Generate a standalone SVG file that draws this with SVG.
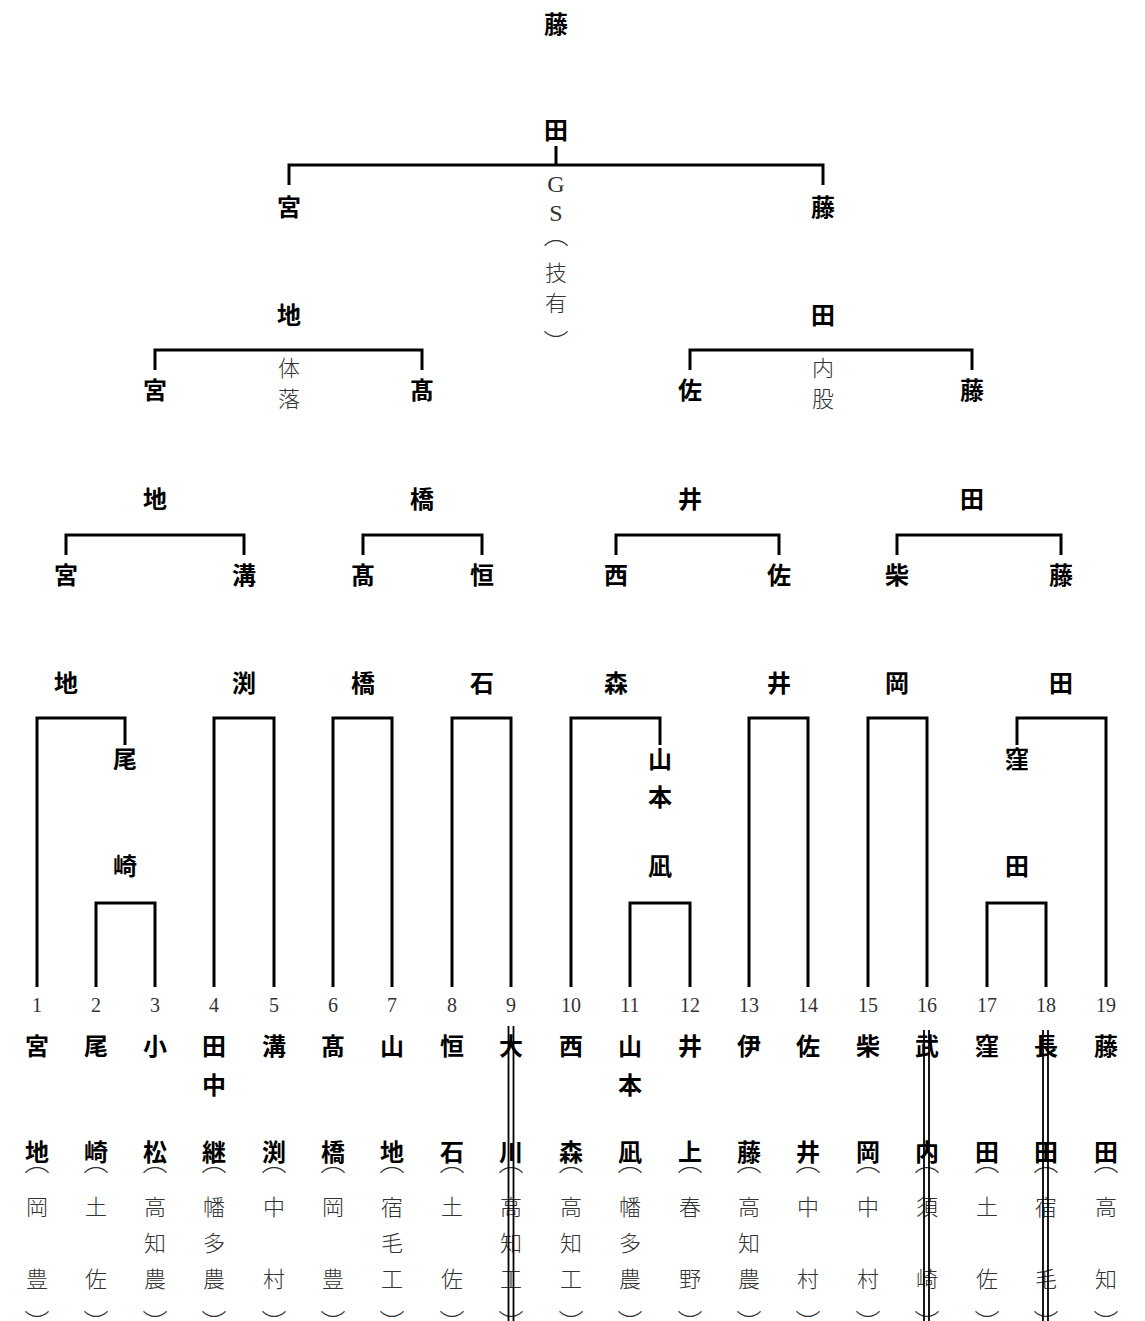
<svg xmlns="http://www.w3.org/2000/svg" width="1145" height="1321" viewBox="0 0 1145 1321">
<style>
text{font-family:"Noto Sans CJK JP","Noto Sans CJK SC",sans-serif;text-anchor:middle;dominant-baseline:central}
.nm{font-size:24px;font-weight:bold;fill:#000}
.sc{font-size:22px;font-weight:300;fill:#333}
.op{font-size:25px;font-weight:300;fill:#333}
.num{font-family:"Liberation Serif",serif;font-size:20px;fill:#333}
.gs{font-family:"Liberation Serif",serif;font-size:24px;fill:#333}
.ln{fill:none;stroke:#000;stroke-width:3}
.dl{fill:none;stroke:#000;stroke-width:1.8}
</style>
<rect width="1145" height="1321" fill="#fff"/>
<g id="connectors">
<path class="ln" d="M556,146V165M289,185V165H823V185"/>
<path class="ln" d="M155,370V350H422V370M690,370V350H972V370"/>
<path class="ln" d="M66,555V535H244V555M363,555V535H482V555M616,555V535H779V555M897,555V535H1061V555"/>
<path class="ln" d="M37,987V718H125V745M214,987V718H274V987M333,987V718H392V987M452,987V718H511V987M571,987V718H660V745M749,987V718H808V987M868,987V718H927V987M1017,745V718H1106V987"/>
<path class="ln" d="M96,987V903H155V987M630,987V903H690V987M987,987V903H1046V987"/>
</g>
<g id="champion"><text class="nm" x="556" y="22">藤</text><text class="nm" x="556" y="128">田</text></g>
<g id="final-note"><text class="gs" x="556" y="184">G</text><text class="gs" x="556" y="213">S</text><text class="op" x="556" y="233">︵</text><text class="sc" x="556" y="271">技</text><text class="sc" x="556" y="301">有</text><text class="op" x="556" y="341">︶</text></g>
<g id="sf-l"><text class="nm" x="289" y="205">宮</text><text class="nm" x="289" y="313">地</text></g>
<g id="sf-r"><text class="nm" x="823" y="205">藤</text><text class="nm" x="823" y="313">田</text></g>
<g id="note-l"><text class="sc" x="289" y="366">体</text><text class="sc" x="289" y="397">落</text></g>
<g id="note-r"><text class="sc" x="823" y="366">内</text><text class="sc" x="823" y="397">股</text></g>
<g id="qf1"><text class="nm" x="155" y="388">宮</text><text class="nm" x="155" y="497">地</text></g>
<g id="qf2"><text class="nm" x="422" y="388">髙</text><text class="nm" x="422" y="497">橋</text></g>
<g id="qf3"><text class="nm" x="690" y="388">佐</text><text class="nm" x="690" y="497">井</text></g>
<g id="qf4"><text class="nm" x="972" y="388">藤</text><text class="nm" x="972" y="497">田</text></g>
<g id="r3-1"><text class="nm" x="66" y="573">宮</text><text class="nm" x="66" y="681">地</text></g>
<g id="r3-2"><text class="nm" x="244" y="573">溝</text><text class="nm" x="244" y="681">渕</text></g>
<g id="r3-3"><text class="nm" x="363" y="573">髙</text><text class="nm" x="363" y="681">橋</text></g>
<g id="r3-4"><text class="nm" x="482" y="573">恒</text><text class="nm" x="482" y="681">石</text></g>
<g id="r3-5"><text class="nm" x="616" y="573">西</text><text class="nm" x="616" y="681">森</text></g>
<g id="r3-6"><text class="nm" x="779" y="573">佐</text><text class="nm" x="779" y="681">井</text></g>
<g id="r3-7"><text class="nm" x="897" y="573">柴</text><text class="nm" x="897" y="681">岡</text></g>
<g id="r3-8"><text class="nm" x="1061" y="573">藤</text><text class="nm" x="1061" y="681">田</text></g>
<g id="r2-1"><text class="nm" x="125" y="757">尾</text><text class="nm" x="125" y="864">崎</text></g>
<g id="r2-2"><text class="nm" x="660" y="757">山</text><text class="nm" x="660" y="795">本</text><text class="nm" x="660" y="864">凪</text></g>
<g id="r2-3"><text class="nm" x="1017" y="757">窪</text><text class="nm" x="1017" y="864">田</text></g>
<g id="p1"><text class="num" x="37" y="1005">1</text><text class="nm" x="37" y="1044">宮</text><text class="nm" x="37" y="1150">地</text><text class="op" x="37" y="1160">︵</text><text class="sc" x="37" y="1205">岡</text><text class="sc" x="37" y="1277">豊</text><text class="op" x="37" y="1321">︶</text></g>
<g id="p2"><text class="num" x="96" y="1005">2</text><text class="nm" x="96" y="1044">尾</text><text class="nm" x="96" y="1150">崎</text><text class="op" x="96" y="1160">︵</text><text class="sc" x="96" y="1205">土</text><text class="sc" x="96" y="1277">佐</text><text class="op" x="96" y="1321">︶</text></g>
<g id="p3"><text class="num" x="155" y="1005">3</text><text class="nm" x="155" y="1044">小</text><text class="nm" x="155" y="1150">松</text><text class="op" x="155" y="1160">︵</text><text class="sc" x="155" y="1205">高</text><text class="sc" x="155" y="1241">知</text><text class="sc" x="155" y="1277">農</text><text class="op" x="155" y="1321">︶</text></g>
<g id="p4"><text class="num" x="214" y="1005">4</text><text class="nm" x="214" y="1044">田</text><text class="nm" x="214" y="1083">中</text><text class="nm" x="214" y="1150">継</text><text class="op" x="214" y="1160">︵</text><text class="sc" x="214" y="1205">幡</text><text class="sc" x="214" y="1241">多</text><text class="sc" x="214" y="1277">農</text><text class="op" x="214" y="1321">︶</text></g>
<g id="p5"><text class="num" x="274" y="1005">5</text><text class="nm" x="274" y="1044">溝</text><text class="nm" x="274" y="1150">渕</text><text class="op" x="274" y="1160">︵</text><text class="sc" x="274" y="1205">中</text><text class="sc" x="274" y="1277">村</text><text class="op" x="274" y="1321">︶</text></g>
<g id="p6"><text class="num" x="333" y="1005">6</text><text class="nm" x="333" y="1044">髙</text><text class="nm" x="333" y="1150">橋</text><text class="op" x="333" y="1160">︵</text><text class="sc" x="333" y="1205">岡</text><text class="sc" x="333" y="1277">豊</text><text class="op" x="333" y="1321">︶</text></g>
<g id="p7"><text class="num" x="392" y="1005">7</text><text class="nm" x="392" y="1044">山</text><text class="nm" x="392" y="1150">地</text><text class="op" x="392" y="1160">︵</text><text class="sc" x="392" y="1205">宿</text><text class="sc" x="392" y="1241">毛</text><text class="sc" x="392" y="1277">工</text><text class="op" x="392" y="1321">︶</text></g>
<g id="p8"><text class="num" x="452" y="1005">8</text><text class="nm" x="452" y="1044">恒</text><text class="nm" x="452" y="1150">石</text><text class="op" x="452" y="1160">︵</text><text class="sc" x="452" y="1205">土</text><text class="sc" x="452" y="1277">佐</text><text class="op" x="452" y="1321">︶</text></g>
<g id="p9"><text class="num" x="511" y="1005">9</text><text class="nm" x="511" y="1044">大</text><text class="nm" x="511" y="1150">川</text><text class="op" x="511" y="1160">︵</text><text class="sc" x="511" y="1205">高</text><text class="sc" x="511" y="1241">知</text><text class="sc" x="511" y="1277">工</text><text class="op" x="511" y="1321">︶</text></g>
<g id="p10"><text class="num" x="571" y="1005">10</text><text class="nm" x="571" y="1044">西</text><text class="nm" x="571" y="1150">森</text><text class="op" x="571" y="1160">︵</text><text class="sc" x="571" y="1205">高</text><text class="sc" x="571" y="1241">知</text><text class="sc" x="571" y="1277">工</text><text class="op" x="571" y="1321">︶</text></g>
<g id="p11"><text class="num" x="630" y="1005">11</text><text class="nm" x="630" y="1044">山</text><text class="nm" x="630" y="1083">本</text><text class="nm" x="630" y="1150">凪</text><text class="op" x="630" y="1160">︵</text><text class="sc" x="630" y="1205">幡</text><text class="sc" x="630" y="1241">多</text><text class="sc" x="630" y="1277">農</text><text class="op" x="630" y="1321">︶</text></g>
<g id="p12"><text class="num" x="690" y="1005">12</text><text class="nm" x="690" y="1044">井</text><text class="nm" x="690" y="1150">上</text><text class="op" x="690" y="1160">︵</text><text class="sc" x="690" y="1205">春</text><text class="sc" x="690" y="1277">野</text><text class="op" x="690" y="1321">︶</text></g>
<g id="p13"><text class="num" x="749" y="1005">13</text><text class="nm" x="749" y="1044">伊</text><text class="nm" x="749" y="1150">藤</text><text class="op" x="749" y="1160">︵</text><text class="sc" x="749" y="1205">高</text><text class="sc" x="749" y="1241">知</text><text class="sc" x="749" y="1277">農</text><text class="op" x="749" y="1321">︶</text></g>
<g id="p14"><text class="num" x="808" y="1005">14</text><text class="nm" x="808" y="1044">佐</text><text class="nm" x="808" y="1150">井</text><text class="op" x="808" y="1160">︵</text><text class="sc" x="808" y="1205">中</text><text class="sc" x="808" y="1277">村</text><text class="op" x="808" y="1321">︶</text></g>
<g id="p15"><text class="num" x="868" y="1005">15</text><text class="nm" x="868" y="1044">柴</text><text class="nm" x="868" y="1150">岡</text><text class="op" x="868" y="1160">︵</text><text class="sc" x="868" y="1205">中</text><text class="sc" x="868" y="1277">村</text><text class="op" x="868" y="1321">︶</text></g>
<g id="p16"><text class="num" x="927" y="1005">16</text><text class="nm" x="927" y="1044">武</text><text class="nm" x="927" y="1150">内</text><text class="op" x="927" y="1160">︵</text><text class="sc" x="927" y="1205">須</text><text class="sc" x="927" y="1277">崎</text><text class="op" x="927" y="1321">︶</text></g>
<g id="p17"><text class="num" x="987" y="1005">17</text><text class="nm" x="987" y="1044">窪</text><text class="nm" x="987" y="1150">田</text><text class="op" x="987" y="1160">︵</text><text class="sc" x="987" y="1205">土</text><text class="sc" x="987" y="1277">佐</text><text class="op" x="987" y="1321">︶</text></g>
<g id="p18"><text class="num" x="1046" y="1005">18</text><text class="nm" x="1046" y="1044">長</text><text class="nm" x="1046" y="1150">田</text><text class="op" x="1046" y="1160">︵</text><text class="sc" x="1046" y="1205">宿</text><text class="sc" x="1046" y="1277">毛</text><text class="op" x="1046" y="1321">︶</text></g>
<g id="p19"><text class="num" x="1106" y="1005">19</text><text class="nm" x="1106" y="1044">藤</text><text class="nm" x="1106" y="1150">田</text><text class="op" x="1106" y="1160">︵</text><text class="sc" x="1106" y="1205">高</text><text class="sc" x="1106" y="1277">知</text><text class="op" x="1106" y="1321">︶</text></g>
<g id="double-lines">
<path class="dl" d="M508.5,1026V1321M513.5,1026V1321"/>
<path class="dl" d="M924,1030V1321M929,1030V1321"/>
<path class="dl" d="M1043,1030V1321M1048,1030V1321"/>
</g>
</svg>
